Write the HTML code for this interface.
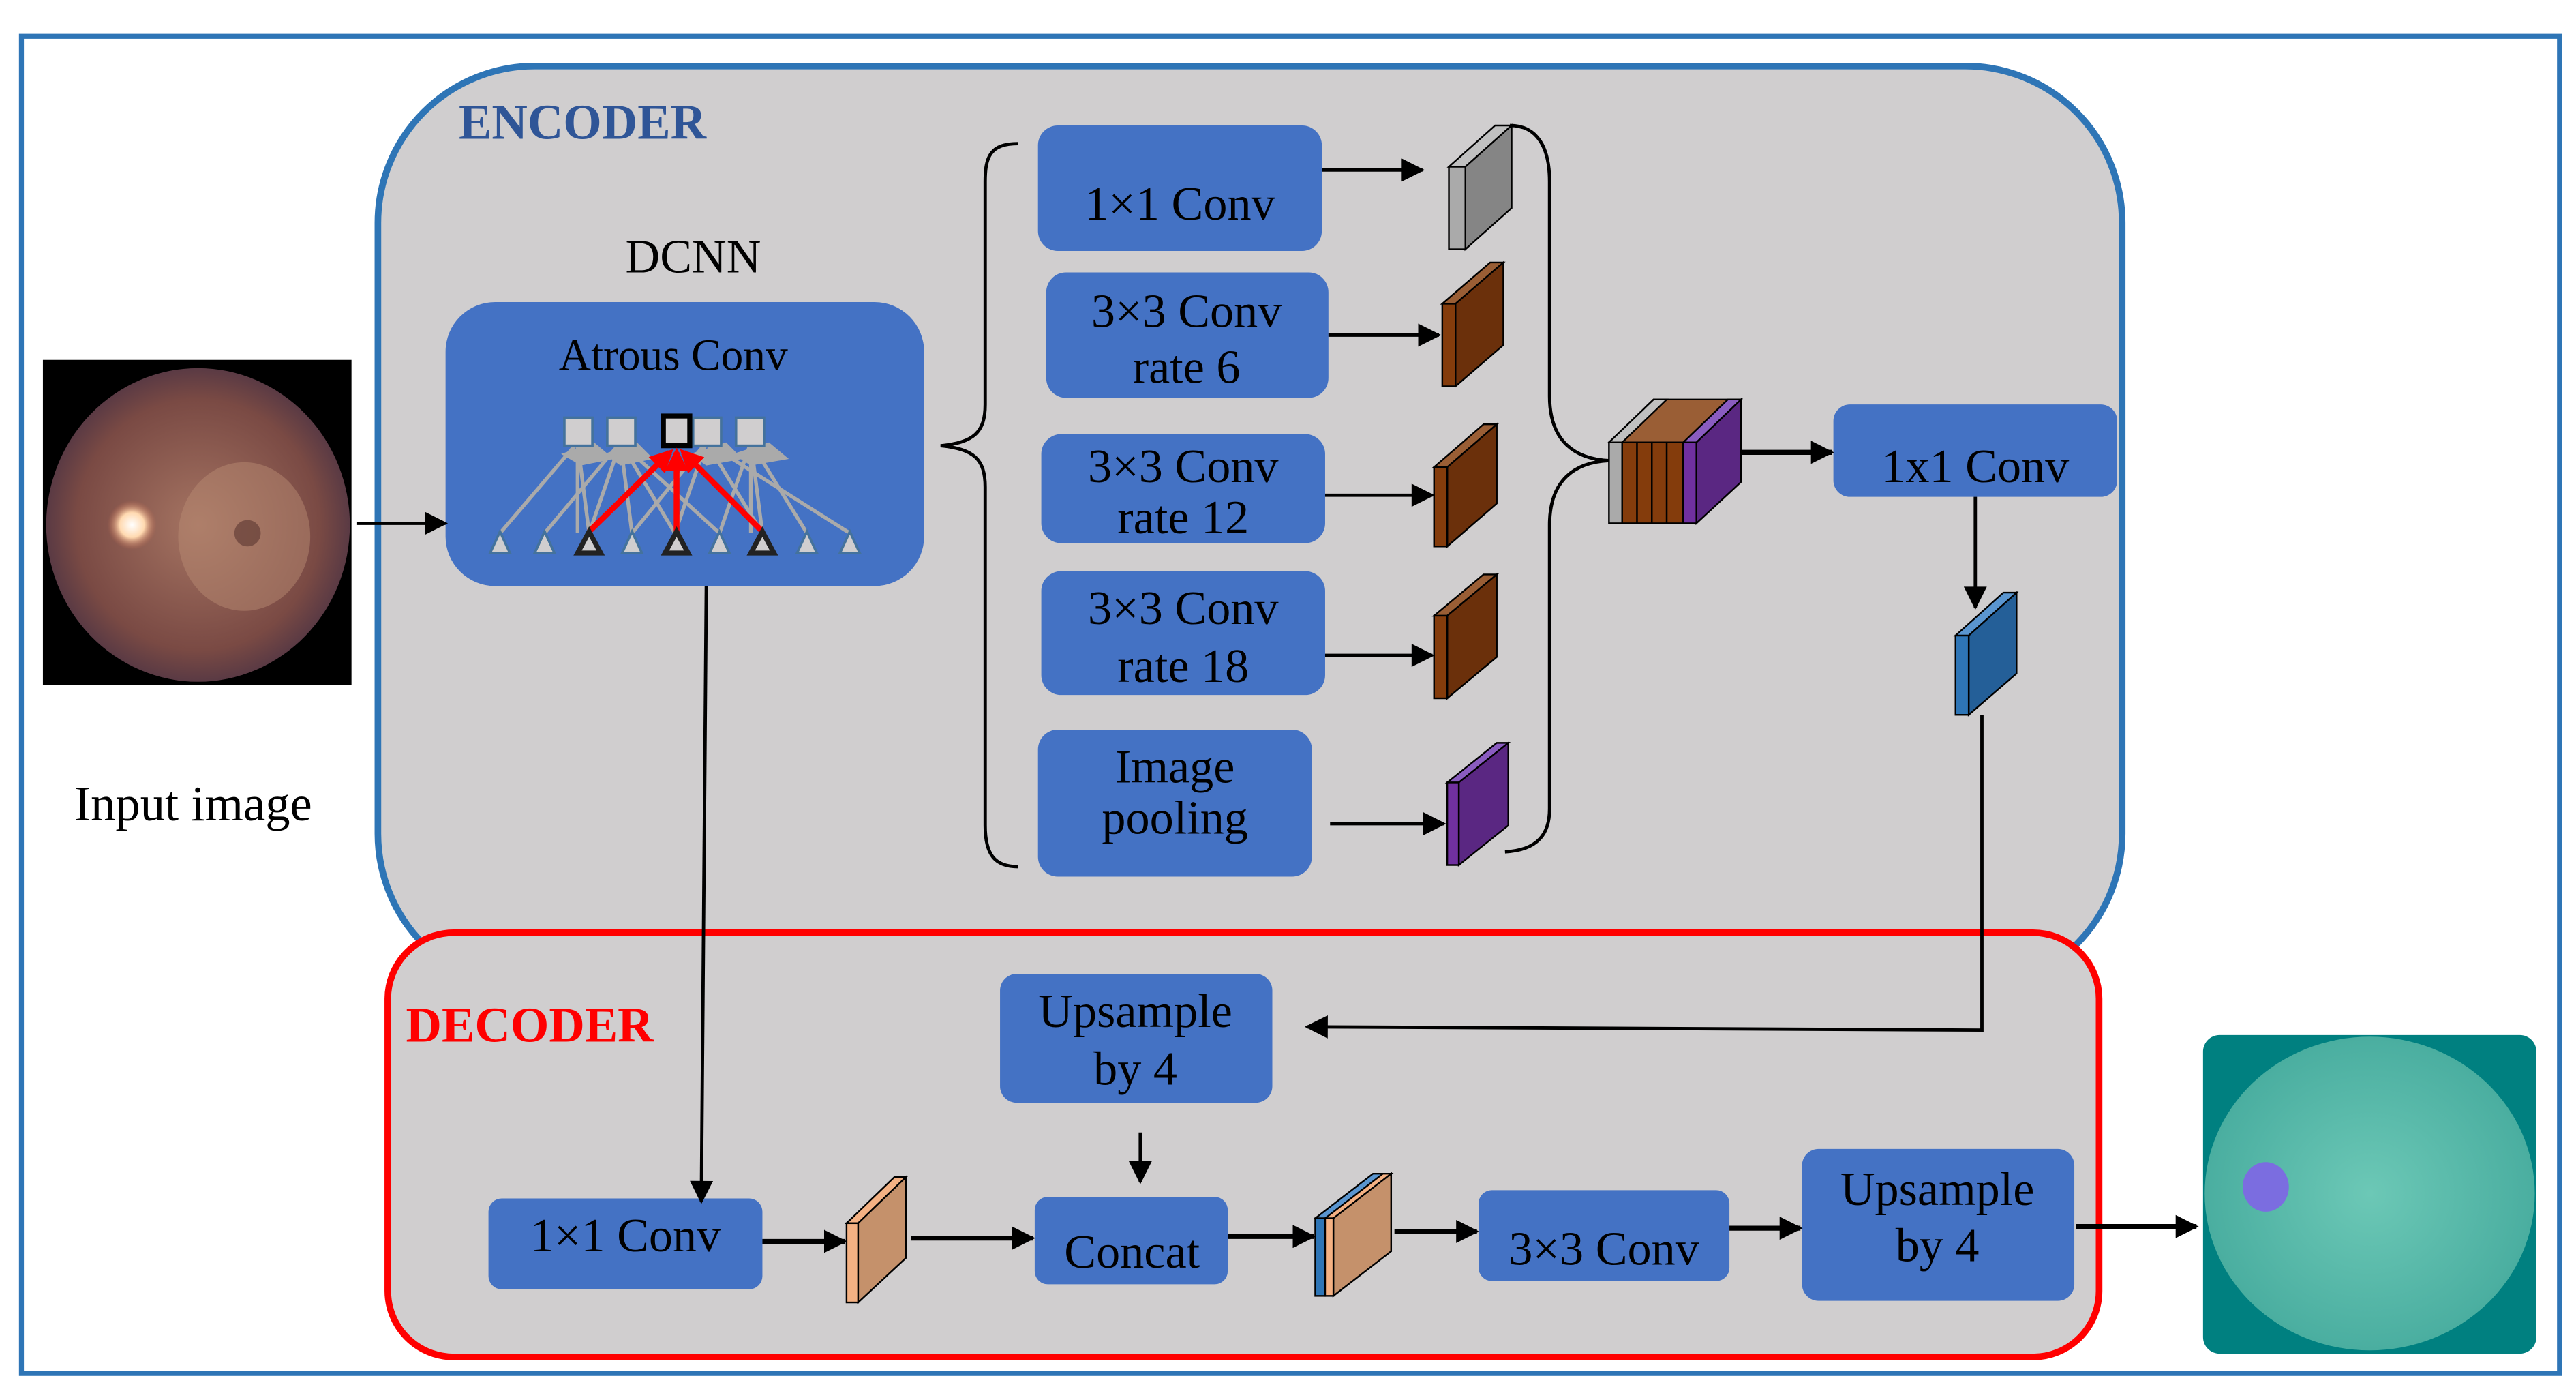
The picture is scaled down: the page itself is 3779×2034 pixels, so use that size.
<!DOCTYPE html>
<html><head><meta charset="utf-8"><style>
html,body{margin:0;padding:0;background:#fff}
svg{display:block}
text{font-family:"Liberation Serif",serif}
</style></head><body>
<svg width="3779" height="2034" viewBox="0 0 1561 840.2" preserveAspectRatio="none" xmlns="http://www.w3.org/2000/svg">
<defs>
<marker id="ahb" viewBox="0 0 10 10" refX="9" refY="5" markerWidth="18" markerHeight="14" orient="auto" markerUnits="userSpaceOnUse"><path d="M0,0L10,5L0,10z" fill="#000"/></marker>
<marker id="ahr" viewBox="0 0 10 10" refX="8" refY="5" markerWidth="14" markerHeight="14" orient="auto" markerUnits="userSpaceOnUse"><path d="M0,0L10,5L0,10z" fill="#f00"/></marker>
<radialGradient id="eye" cx="0.5" cy="0.5" r="0.5"><stop offset="0" stop-color="#a57462"/><stop offset="0.8" stop-color="#7a4a44"/><stop offset="1" stop-color="#5a3a44"/></radialGradient>
<radialGradient id="disc" cx="0.5" cy="0.5" r="0.5"><stop offset="0" stop-color="#fff"/><stop offset="0.5" stop-color="#ffd9b0"/><stop offset="1" stop-color="#c06a50" stop-opacity="0"/></radialGradient>
<radialGradient id="eye2" cx="0.5" cy="0.5" r="0.5"><stop offset="0" stop-color="#6cc8b6"/><stop offset="1" stop-color="#4aaea0"/></radialGradient>
</defs>
<rect x="13" y="22" width="1538" height="810" fill="#fff" stroke="#2e75b6" stroke-width="3"/>
<rect x="229" y="40" width="1057" height="560" rx="95" ry="95" fill="#d0cecf" stroke="#2e75b6" stroke-width="4"/>
<rect x="235" y="565" width="1037" height="257" rx="40" ry="40" fill="#d0cecf" stroke="#f00" stroke-width="4"/>
<text x="278" y="84" font-size="30" font-weight="bold" fill="#2f5597">ENCODER</text>
<text x="246" y="631" font-size="30" font-weight="bold" fill="#f00">DECODER</text>
<text x="379" y="165" font-size="29">DCNN</text>
<text x="45" y="497" font-size="30">Input image</text>

<rect x="26" y="218" width="187" height="197" fill="#000"/>
<ellipse cx="120" cy="318" rx="92" ry="95" fill="url(#eye)"/>
<ellipse cx="148" cy="325" rx="40" ry="45" fill="#b88a72" opacity="0.5"/>
<circle cx="80" cy="318" r="15" fill="url(#disc)"/>
<circle cx="150" cy="323" r="8" fill="#5a3530" opacity="0.6"/>

<rect x="1335" y="627" width="202" height="193" rx="10" fill="#008080"/>
<ellipse cx="1436" cy="723" rx="100" ry="95" fill="url(#eye2)"/>
<ellipse cx="1373" cy="719" rx="14" ry="15" fill="#7b6de0"/>

<g fill="#4472c4">
<rect x="270" y="183" width="290" height="172" rx="30"/>
<rect x="629" y="76" width="172" height="76" rx="12"/>
<rect x="634" y="165" width="171" height="76" rx="12"/>
<rect x="631" y="263" width="172" height="66" rx="12"/>
<rect x="631" y="346" width="172" height="75" rx="12"/>
<rect x="629" y="442" width="166" height="89" rx="12"/>
<rect x="1111" y="245" width="172" height="56" rx="10"/>
<rect x="606" y="590" width="165" height="78" rx="10"/>
<rect x="296" y="726" width="166" height="55" rx="8"/>
<rect x="627" y="725" width="117" height="53" rx="8"/>
<rect x="896" y="721" width="152" height="55" rx="8"/>
<rect x="1092" y="696" width="165" height="92" rx="10"/>
</g>
<g font-size="29" text-anchor="middle">
<text x="408" y="224" font-size="27">Atrous Conv</text>
<text x="715" y="133">1×1 Conv</text>
<text x="719" y="198">3×3 Conv</text><text x="719" y="232">rate 6</text>
<text x="717" y="292">3×3 Conv</text><text x="717" y="323">rate 12</text>
<text x="717" y="378">3×3 Conv</text><text x="717" y="413">rate 18</text>
<text x="712" y="474">Image</text><text x="712" y="505">pooling</text>
<text x="1197" y="292">1x1 Conv</text>
<text x="688" y="622">Upsample</text><text x="688" y="657">by 4</text>
<text x="379" y="758">1×1 Conv</text>
<text x="686" y="768">Concat</text>
<text x="972" y="766">3×3 Conv</text>
<text x="1174" y="730">Upsample</text><text x="1174" y="764">by 4</text>
</g>

<g stroke="#aaa" stroke-width="2.2">
<line x1="303" y1="323" x2="350" y2="268"/><line x1="330" y1="323" x2="376" y2="268"/>
<line x1="357" y1="323" x2="350" y2="268"/><line x1="357" y1="323" x2="376" y2="268"/>
<line x1="383" y1="323" x2="376" y2="268"/><line x1="383" y1="323" x2="428" y2="268"/>
<line x1="409" y1="323" x2="376" y2="268"/><line x1="409" y1="323" x2="428" y2="268"/>
<line x1="436" y1="323" x2="376" y2="268"/><line x1="436" y1="323" x2="455" y2="268"/>
<line x1="462" y1="323" x2="428" y2="268"/><line x1="462" y1="323" x2="455" y2="268"/>
<line x1="489" y1="323" x2="455" y2="268"/><line x1="515" y1="323" x2="428" y2="268"/>
<line x1="350" y1="323" x2="350" y2="268"/><line x1="455" y1="323" x2="455" y2="268"/>
</g>
<g fill="#aaa"><polygon points="340,275 360,268 372,278 352,282"/><polygon points="366,275 386,268 396,278 376,282"/><polygon points="418,275 440,268 450,278 428,282"/><polygon points="444,275 466,268 478,278 455,282"/></g>
<g fill="#d0cecf" stroke="#44729c" stroke-width="1.5">
<rect x="342" y="253" width="17" height="17"/><rect x="368" y="253" width="17" height="17"/>
<rect x="420" y="253" width="17" height="17"/><rect x="446" y="253" width="17" height="17"/>
</g>
<rect x="402" y="252" width="16" height="18" fill="#d0cecf" stroke="#000" stroke-width="3"/>
<g stroke="#f00" stroke-width="3.5" marker-end="url(#ahr)">
<line x1="357" y1="322" x2="406" y2="274"/><line x1="410" y1="322" x2="410" y2="274"/><line x1="462" y1="322" x2="414" y2="274"/>
</g>
<g fill="#d0cecf" stroke="#44729c" stroke-width="1.5">
<polygon points="303,322 297,335 309,335"/><polygon points="330,322 324,335 336,335"/><polygon points="383,322 377,335 389,335"/>
<polygon points="436,322 430,335 442,335"/><polygon points="489,322 483,335 495,335"/><polygon points="515,322 509,335 521,335"/>
</g>
<g fill="#d0cecf" stroke="#222" stroke-width="3">
<polygon points="357,322 350,335 364,335"/><polygon points="410,322 403,335 417,335"/><polygon points="462,322 455,335 469,335"/>
</g>

<path d="M617,87 C600,87 597,95 597,110 L597,245 C597,262 590,268 570,270 C590,272 597,278 597,295 L597,500 C597,518 603,525 617,525" fill="none" stroke="#000" stroke-width="2"/>
<path d="M915,76 C932,76 939,90 939,110 L939,240 C939,268 955,278 975,279 C955,280 939,290 939,318 L939,490 C939,505 932,515 912,516" fill="none" stroke="#000" stroke-width="2"/>

<g stroke="#000" stroke-width="1">
<polygon points="878,101 888,101 916,76 906,76" fill="#c0c0c0"/><polygon points="888,101 916,76 916,126 888,151" fill="#858585"/><rect x="878" y="101" width="10" height="50" fill="#aaa"/>
<polygon points="874,184 882,184 911,159 903,159" fill="#9a5e35"/><polygon points="882,184 911,159 911,209 882,234" fill="#6b300b"/><rect x="874" y="184" width="8" height="50" fill="#843c0c"/>
<polygon points="869,283 877,283 907,257 899,257" fill="#9a5e35"/><polygon points="877,283 907,257 907,305 877,331" fill="#6b300b"/><rect x="869" y="283" width="8" height="48" fill="#843c0c"/>
<polygon points="869,373 877,373 907,348 899,348" fill="#9a5e35"/><polygon points="877,373 907,348 907,398 877,423" fill="#6b300b"/><rect x="869" y="373" width="8" height="50" fill="#843c0c"/>
<polygon points="877,474 884,474 914,450 907,450" fill="#8a5cc0"/><polygon points="884,474 914,450 914,500 884,524" fill="#5a2782"/><rect x="877" y="474" width="7" height="50" fill="#7030a0"/>
<polygon points="975,268 1028,268 1055,242 1002,242" fill="#9a5e35"/>
<polygon points="975,268 983,268 1010,242 1002,242" fill="#c0c0c0"/>
<polygon points="1020,268 1028,268 1055,242 1047,242" fill="#8a5cc0"/>
<polygon points="1028,268 1055,242 1055,292 1028,317" fill="#5a2782"/>
<rect x="975" y="268" width="8" height="49" fill="#aaa"/>
<rect x="983" y="268" width="9" height="49" fill="#843c0c"/><rect x="992" y="268" width="9" height="49" fill="#843c0c"/>
<rect x="1001" y="268" width="9" height="49" fill="#843c0c"/><rect x="1010" y="268" width="10" height="49" fill="#843c0c"/>
<rect x="1020" y="268" width="8" height="49" fill="#7030a0"/>
<polygon points="1185,385 1193,385 1222,359 1214,359" fill="#5a95cf"/><polygon points="1193,385 1222,359 1222,408 1193,433" fill="#245f98"/><rect x="1185" y="385" width="8" height="48" fill="#2e75b6"/>
<polygon points="513,741 520,741 549,713 542,713" fill="#f4b183"/><polygon points="520,741 549,713 549,762 520,789" fill="#c5916b"/><rect x="513" y="741" width="7" height="48" fill="#f4b183"/>
<polygon points="797,738 808,738 843,711 832,711" fill="#5a95cf"/><polygon points="803,738 808,738 843,711 838,711" fill="#f4b183"/>
<polygon points="808,738 843,711 843,758 808,785" fill="#c5916b"/>
<rect x="797" y="738" width="6" height="47" fill="#2e75b6"/><rect x="803" y="738" width="5" height="47" fill="#f4b183"/>
</g>

<g stroke="#000" stroke-width="2" fill="none" marker-end="url(#ahb)">
<line x1="216" y1="317" x2="270" y2="317"/>
<line x1="801" y1="103" x2="862" y2="103"/>
<line x1="805" y1="203" x2="872" y2="203"/>
<line x1="803" y1="300" x2="868" y2="300"/>
<line x1="803" y1="397" x2="868" y2="397"/>
<line x1="806" y1="499" x2="875" y2="499"/>
<line x1="1055" y1="274" x2="1110" y2="274" stroke-width="3"/>
<line x1="1197" y1="301" x2="1197" y2="368"/>
<polyline points="1201,433 1201,624 792,622"/>
<line x1="428" y1="355" x2="425" y2="728"/>
<line x1="691" y1="686" x2="691" y2="716"/>
<line x1="462" y1="752" x2="512" y2="752" stroke-width="3"/>
<line x1="552" y1="750" x2="626" y2="750" stroke-width="3"/>
<line x1="744" y1="749" x2="796" y2="749" stroke-width="3"/>
<line x1="845" y1="746" x2="895" y2="746" stroke-width="3"/>
<line x1="1048" y1="744" x2="1091" y2="744" stroke-width="3"/>
<line x1="1258" y1="743" x2="1331" y2="743" stroke-width="3"/>
</g>
</svg>
</body></html>
